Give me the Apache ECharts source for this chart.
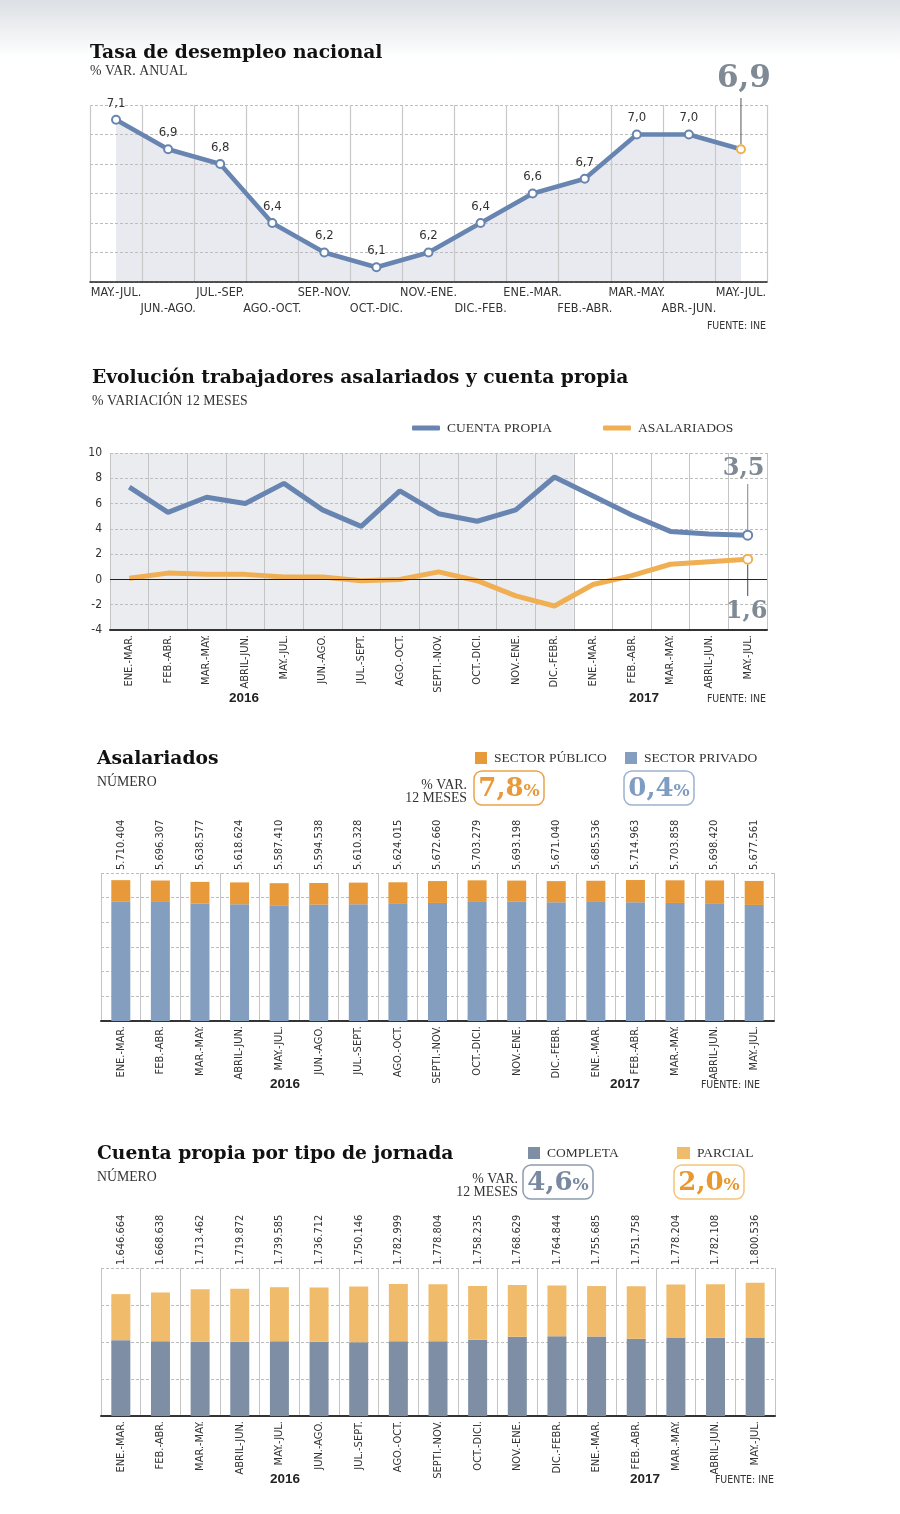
<!DOCTYPE html>
<html>
<head>
<meta charset="utf-8">
<script src="https://cdn.jsdelivr.net/npm/echarts@6/dist/echarts.min.js"></script>
<style>
  html, body { margin: 0; padding: 0; }
  body { width: 900px; height: 1514px; background: linear-gradient(#dcdfe3 0px, #eef0f2 30px, #fff 58px) no-repeat, #fff; }
  #chart { width: 900px; height: 1514px; }
</style>
</head>
<body>
<div id="chart"></div>
<script>
// datos
const periodos1 = ['MAY.-JUL.', 'JUN.-AGO.', 'JUL.-SEP.', 'AGO.-OCT.', 'SEP.-NOV.', 'OCT.-DIC.', 'NOV.-ENE.',
  'DIC.-FEB.', 'ENE.-MAR.', 'FEB.-ABR.', 'MAR.-MAY.', 'ABR.-JUN.', 'MAY.-JUL.']
const desempleo = [7.1, 6.9, 6.8, 6.4, 6.2, 6.1, 6.2, 6.4, 6.6, 6.7, 7.0, 7.0, 6.9]

const periodos = ['ENE.-MAR.', 'FEB.-ABR.', 'MAR.-MAY.', 'ABRIL-JUN.', 'MAY.-JUL.', 'JUN.-AGO.', 'JUL.-SEPT.',
  'AGO.-OCT.', 'SEPTI.-NOV.', 'OCT.-DICI.', 'NOV.-ENE.', 'DIC.-FEBR.', 'ENE.-MAR.', 'FEB.-ABR.',
  'MAR.-MAY.', 'ABRIL-JUN.', 'MAY.-JUL.']
const cuentaPropiaVar = [7.3, 5.3, 6.5, 6.0, 7.6, 5.5, 4.2, 7.0, 5.2, 4.6, 5.5, 8.1, 6.6, 5.1, 3.8, 3.6, 3.5]
const asalariadosVar = [0.1, 0.5, 0.4, 0.4, 0.2, 0.2, -0.1, 0.0, 0.6, -0.1, -1.3, -2.1, -0.4, 0.3, 1.2, 1.4, 1.6]

const totalAsalariados = [5710404, 5696307, 5638577, 5618624, 5587410, 5594538, 5610328, 5624015, 5672660,
  5703279, 5693198, 5671040, 5685536, 5714963, 5703858, 5698420, 5677561]
const sectorPrivado = [4840000, 4827000, 4759000, 4732000, 4692000, 4719000, 4732000, 4746000, 4786000,
  4827000, 4840000, 4813000, 4827000, 4813000, 4786000, 4746000, 4705000]
const sectorPublico = [870000, 869000, 880000, 887000, 895000, 876000, 878000, 878000, 887000,
  876000, 853000, 858000, 859000, 902000, 918000, 952000, 973000]

const totalCuentaPropia = [1646664, 1668638, 1713462, 1719872, 1739585, 1736712, 1750146, 1782999, 1778804,
  1758235, 1768629, 1764844, 1755685, 1751758, 1778204, 1782108, 1800536]
const jornadaCompleta = [1025000, 1011000, 1002000, 1002000, 1011000, 1002000, 998000, 1011000, 1011000,
  1029000, 1070000, 1079000, 1074000, 1043000, 1061000, 1056000, 1061000]
const jornadaParcial = [622000, 658000, 711000, 718000, 729000, 735000, 752000, 772000, 768000,
  729000, 699000, 686000, 682000, 709000, 717000, 726000, 740000]

const varAnual = { publico: '7,8', privado: '0,4', completa: '4,6', parcial: '2,0' }

// estilos
const NARROW = '"Liberation Sans Narrow", "DejaVu Sans Condensed", Roboto, sans-serif'
const SERIF = '"DejaVu Serif", serif'
const SERIF_L = '"Liberation Serif", serif'
const AZUL = '#6785b0'
const NARANJA = '#efaf52'
const GRIS_NUM = '#7f8a95'
const TITULO = 'bold 18.7px ' + SERIF
const SUB = '13.8px ' + SERIF_L

const coma = v => v.toFixed(1).replace('.', ',')
const miles = n => String(n).replace(/\B(?=(\d{3})+(?!\d))/g, '.')

const chart = echarts.init(document.getElementById('chart'))

const ejeRotado = (grid, data) => ({
  gridIndex: grid, type: 'category', data, boundaryGap: true,
  axisLine: { onZero: false, lineStyle: { color: '#333', width: 2 } },
  axisTick: { show: false },
  axisLabel: { rotate: 90, interval: 0, margin: 5, fontSize: 11, fontFamily: NARROW, color: '#333' },
  splitLine: { show: true, lineStyle: { color: '#c4c4c4', width: 1 } }
})
const ejeTotales = (grid, data) => ({
  gridIndex: grid, type: 'category', position: 'top', data: data.map(miles),
  axisLine: { show: false }, axisTick: { show: false }, splitLine: { show: false },
  axisLabel: { rotate: 90, interval: 0, margin: 3, fontSize: 11, fontFamily: NARROW, color: '#333' }
})
const ejeY = (grid, min, max, interval, labels) => ({
  gridIndex: grid, type: 'value', min, max, interval,
  axisLine: { show: false }, axisTick: { show: false },
  axisLabel: labels ? { fontSize: 12, fontFamily: NARROW, color: '#333', margin: 8 } : { show: false },
  splitLine: { lineStyle: { color: '#bdbdbd', type: [3, 2], width: 1 } }
})
const leyenda = (name, left, top, opts) => Object.assign({
  data: [name], left, top, padding: 0, selectedMode: false,
  textStyle: { fontFamily: SERIF_L, fontSize: 13.5, color: '#333', padding: [0, 0, 0, 2] }
}, opts)

const last1 = desempleo.length - 1
const lastP = periodos.length - 1

const option = {
  animation: false,
  grid: [
    { left: 90, top: 105, width: 677, height: 177 },
    { left: 110, top: 453, width: 657, height: 177 },
    { left: 101, top: 873, width: 673, height: 148 },
    { left: 101, top: 1268, width: 674, height: 148 }
  ],
  legend: [
    leyenda('CUENTA PROPIA', 412, 421, { icon: 'roundRect', itemWidth: 28, itemHeight: 5 }),
    leyenda('ASALARIADOS', 603, 421, { icon: 'roundRect', itemWidth: 28, itemHeight: 5 }),
    leyenda('SECTOR PÚBLICO', 475, 751, { icon: 'rect', itemWidth: 12, itemHeight: 12 }),
    leyenda('SECTOR PRIVADO', 625, 751, { icon: 'rect', itemWidth: 12, itemHeight: 12 }),
    leyenda('COMPLETA', 528, 1146, { icon: 'rect', itemWidth: 12, itemHeight: 12 }),
    leyenda('PARCIAL', 677, 1146, { icon: 'rect', itemWidth: 13, itemHeight: 12 })
  ],
  xAxis: [
    {
      gridIndex: 0, type: 'category', data: periodos1, boundaryGap: true,
      axisLine: { lineStyle: { color: '#222', width: 1.5 } },
      axisTick: { show: false },
      axisLabel: {
        interval: 0, margin: 3, fontSize: 12.5, fontFamily: NARROW, color: '#333', lineHeight: 16,
        formatter: (v, i) => (i % 2 ? '\n' + v : v)
      },
      splitLine: { show: true, lineStyle: { color: '#c8c8c8', width: 1.2 } }
    },
    ejeRotado(1, periodos),
    ejeRotado(2, periodos),
    ejeTotales(2, totalAsalariados),
    ejeRotado(3, periodos),
    ejeTotales(3, totalCuentaPropia)
  ],
  yAxis: [
    ejeY(0, 6, 7.2, 0.2, false),
    ejeY(1, -4, 10, 2, true),
    ejeY(2, 0, 6000000, 1000000, false),
    ejeY(3, 0, 2000000, 500000, false)
  ],
  series: [
    // area gris bajo la línea (debajo de la cuadrícula)
    {
      type: 'line', xAxisIndex: 0, yAxisIndex: 0, data: desempleo, z: -1, silent: true,
      symbol: 'none', lineStyle: { width: 0 }, areaStyle: { color: '#e9eaef', opacity: 1 }
    },
    {
      type: 'line', xAxisIndex: 0, yAxisIndex: 0,
      data: desempleo.map((v, i) => i === last1
        ? { value: v, itemStyle: { borderColor: '#f0b050' }, label: { show: false } }
        : v),
      symbol: 'circle', symbolSize: 8,
      itemStyle: { color: '#fff', borderColor: AZUL, borderWidth: 2 },
      lineStyle: { color: AZUL, width: 4.5 },
      label: {
        show: true, position: 'top', distance: 5, fontFamily: NARROW, fontSize: 13, color: '#333',
        formatter: p => coma(p.value)
      }
    },
    {
      name: 'CUENTA PROPIA', type: 'line', xAxisIndex: 1, yAxisIndex: 1,
      data: cuentaPropiaVar.map((v, i) => i === lastP
        ? { value: v, itemStyle: { color: '#fff', borderColor: AZUL, borderWidth: 2 } } : v),
      color: AZUL, symbol: 'circle', symbolSize: (v, p) => (p.dataIndex === lastP ? 9 : 0),
      lineStyle: { color: AZUL, width: 5 },
      markLine: {
        silent: true, symbol: 'none', label: { show: false },
        lineStyle: { color: '#222', width: 1.2, type: 'solid' },
        data: [{ yAxis: 0 }]
      }
    },
    {
      name: 'ASALARIADOS', type: 'line', xAxisIndex: 1, yAxisIndex: 1,
      data: asalariadosVar.map((v, i) => i === lastP
        ? { value: v, itemStyle: { color: '#fff', borderColor: NARANJA, borderWidth: 2 } } : v),
      color: NARANJA, symbol: 'circle', symbolSize: (v, p) => (p.dataIndex === lastP ? 9 : 0),
      lineStyle: { color: NARANJA, width: 5 }
    },
    {
      name: 'SECTOR PRIVADO', type: 'bar', xAxisIndex: 2, yAxisIndex: 2, stack: 'asal',
      data: sectorPrivado, barWidth: 19, itemStyle: { color: '#849ebf' }
    },
    {
      name: 'SECTOR PÚBLICO', type: 'bar', xAxisIndex: 2, yAxisIndex: 2, stack: 'asal',
      data: sectorPublico, barWidth: 19, itemStyle: { color: '#e8993a' }
    },
    {
      name: 'COMPLETA', type: 'bar', xAxisIndex: 4, yAxisIndex: 3, stack: 'cp',
      data: jornadaCompleta, barWidth: 19, itemStyle: { color: '#7d8ea5' }
    },
    {
      name: 'PARCIAL', type: 'bar', xAxisIndex: 4, yAxisIndex: 3, stack: 'cp',
      data: jornadaParcial, barWidth: 19, itemStyle: { color: '#f0bb6a' }
    }
  ]
}
chart.setOption(option)

// textos fijos
const txt = (text, x, y, font, fill, align) => ({
  type: 'text', x, y, silent: true,
  style: { text, font, fill: fill || '#222', textAlign: align || 'left', textVerticalAlign: 'middle' }
})
const caja = (x, y, color, borde, num) => ({
  type: 'group', x, y, silent: true,
  children: [
    { type: 'rect', shape: { x: 0, y: 0, width: 70, height: 34, r: 8 }, style: { fill: '#fff', stroke: borde, lineWidth: 1.5 } },
    {
      type: 'text', x: 35, y: 18,
      style: {
        text: '{a|' + num + '}{b|%}', fill: color, textAlign: 'center', textVerticalAlign: 'middle',
        rich: {
          a: { font: 'bold 26px ' + SERIF, fill: color },
          b: { font: 'bold 17px ' + SERIF, fill: color, padding: [6, 0, 0, 0] }
        }
      }
    }
  ]
})

const elementos = [
  txt('Tasa de desempleo nacional', 90, 53, TITULO, '#111'),
  txt('% VAR. ANUAL', 90, 71, SUB, '#333'),
  txt('FUENTE: INE', 766, 326, '10.5px ' + NARROW, '#333', 'right'),

  txt('Evolución trabajadores asalariados y cuenta propia', 92, 378, TITULO, '#111'),
  txt('% VARIACIÓN 12 MESES', 92, 401, SUB, '#333'),
  txt('2016', 244, 698, 'bold 13.5px "Liberation Sans", sans-serif', '#222', 'center'),
  txt('2017', 644, 698, 'bold 13.5px "Liberation Sans", sans-serif', '#222', 'center'),
  txt('FUENTE: INE', 766, 699, '10.5px ' + NARROW, '#333', 'right'),

  txt('Asalariados', 97, 759, TITULO, '#111'),
  txt('NÚMERO', 97, 782, SUB, '#333'),
  txt('% VAR.', 467, 785, SUB, '#333', 'right'),
  txt('12 MESES', 467, 798, SUB, '#333', 'right'),
  caja(474, 771, '#e8993a', '#eaa24a', varAnual.publico),
  caja(624, 771, '#7f9cc2', '#9cb2d0', varAnual.privado),
  txt('2016', 285, 1084, 'bold 13.5px "Liberation Sans", sans-serif', '#222', 'center'),
  txt('2017', 625, 1084, 'bold 13.5px "Liberation Sans", sans-serif', '#222', 'center'),
  txt('FUENTE: INE', 760, 1085, '10.5px ' + NARROW, '#333', 'right'),

  txt('Cuenta propia por tipo de jornada', 97, 1154, TITULO, '#111'),
  txt('NÚMERO', 97, 1177, SUB, '#333'),
  txt('% VAR.', 518, 1179, SUB, '#333', 'right'),
  txt('12 MESES', 518, 1192, SUB, '#333', 'right'),
  caja(523, 1165, '#7889a0', '#8d9cb0', varAnual.completa),
  caja(674, 1165, '#e8982f', '#f3c57a', varAnual.parcial),
  txt('2016', 285, 1479, 'bold 13.5px "Liberation Sans", sans-serif', '#222', 'center'),
  txt('2017', 645, 1479, 'bold 13.5px "Liberation Sans", sans-serif', '#222', 'center'),
  txt('FUENTE: INE', 774, 1480, '10.5px ' + NARROW, '#333', 'right')
]

// anotaciones ancladas a los datos
const p69 = chart.convertToPixel({ xAxisIndex: 0, yAxisIndex: 0 }, [last1, desempleo[last1]])
elementos.push(
  { type: 'line', silent: true, shape: { x1: p69[0], y1: 98, x2: p69[0], y2: p69[1] - 5 }, style: { stroke: '#555', lineWidth: 1 } },
  txt(coma(desempleo[last1]), p69[0] + 3, 79, 'bold 31px ' + SERIF, GRIS_NUM, 'center')
)
const pCP = chart.convertToPixel({ xAxisIndex: 1, yAxisIndex: 1 }, [lastP, cuentaPropiaVar[lastP]])
const pAS = chart.convertToPixel({ xAxisIndex: 1, yAxisIndex: 1 }, [lastP, asalariadosVar[lastP]])
elementos.push(
  { type: 'line', silent: true, shape: { x1: pCP[0], y1: 484, x2: pCP[0], y2: pCP[1] - 5 }, style: { stroke: '#999', lineWidth: 1.2 } },
  txt(coma(cuentaPropiaVar[lastP]), pCP[0] - 4, 469, 'bold 24px ' + SERIF, GRIS_NUM, 'center'),
  { type: 'line', silent: true, shape: { x1: pAS[0], y1: pAS[1] + 5, x2: pAS[0], y2: 596 }, style: { stroke: '#666', lineWidth: 1.2 } },
  txt(coma(asalariadosVar[lastP]), pAS[0] - 1, 612, 'bold 24px ' + SERIF, GRIS_NUM, 'center')
)

// fondo gris del tramo 2016
const c0 = chart.convertToPixel({ xAxisIndex: 1 }, 0)
const c11 = chart.convertToPixel({ xAxisIndex: 1 }, 11)
const c12 = chart.convertToPixel({ xAxisIndex: 1 }, 12)
const yTop = chart.convertToPixel({ yAxisIndex: 1 }, 10)
const yBot = chart.convertToPixel({ yAxisIndex: 1 }, -4)
const banda = c12 - c11
elementos.push({
  type: 'rect', z: -1, silent: true,
  shape: { x: c0 - banda / 2, y: yTop, width: (c11 + c12) / 2 - (c0 - banda / 2), height: yBot - yTop },
  style: { fill: '#ebecf0' }
})

chart.setOption({ graphic: { elements: elementos } })
</script>
</body>
</html>
